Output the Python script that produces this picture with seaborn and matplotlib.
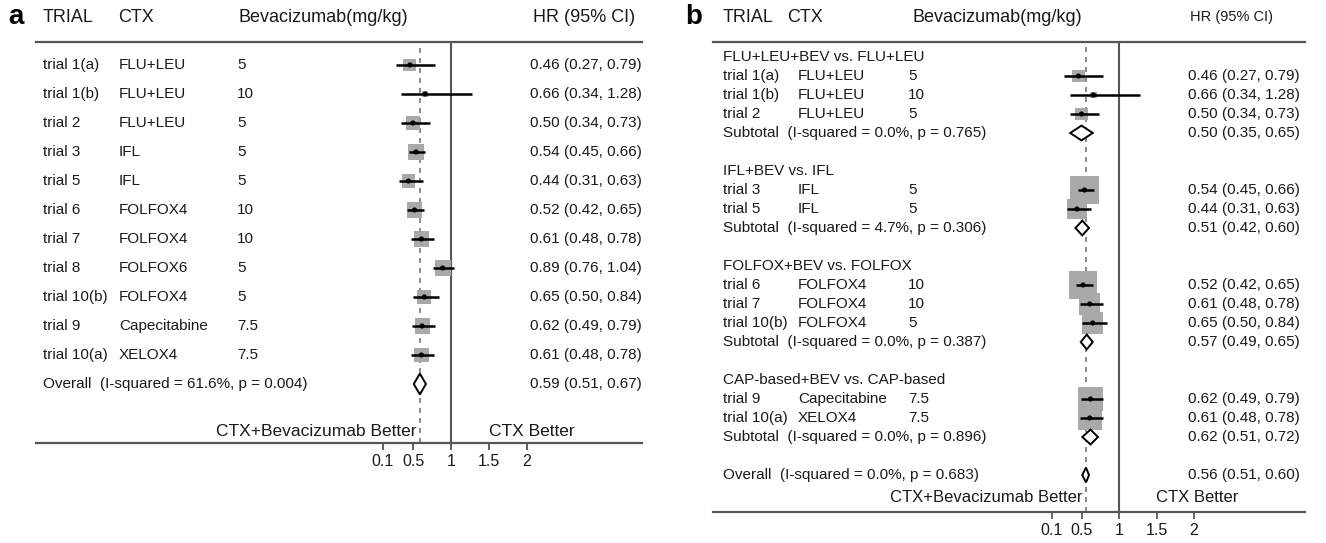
import matplotlib
matplotlib.use("Agg")
import matplotlib.pyplot as plt
import matplotlib.transforms as mtransforms
import numpy as np
import seaborn as sns

# ---- data ----
trials = ["trial 1(a)", "trial 1(b)", "trial 2", "trial 3", "trial 5", "trial 6",
          "trial 7", "trial 8", "trial 10(b)", "trial 9", "trial 10(a)"]
ctx = ["FLU+LEU", "FLU+LEU", "FLU+LEU", "IFL", "IFL", "FOLFOX4", "FOLFOX4",
       "FOLFOX6", "FOLFOX4", "Capecitabine", "XELOX4"]
dose = ["5", "10", "5", "5", "5", "10", "10", "5", "5", "7.5", "7.5"]
hr = [0.46, 0.66, 0.50, 0.54, 0.44, 0.52, 0.61, 0.89, 0.65, 0.62, 0.61]
hr_lo = [0.27, 0.34, 0.34, 0.45, 0.31, 0.42, 0.48, 0.76, 0.50, 0.49, 0.48]
hr_hi = [0.79, 1.28, 0.73, 0.66, 0.63, 0.65, 0.78, 1.04, 0.84, 0.79, 0.78]
weight_a = [7, 1.5, 8, 9.5, 8, 9.5, 9.5, 10.5, 8, 9.5, 8.5]

overall_a = dict(hr=0.59, lo=0.51, hi=0.67, i2="61.6%", p="0.004")

groups = ["FLU+LEU+BEV vs. FLU+LEU", "IFL+BEV vs. IFL",
          "FOLFOX+BEV vs. FOLFOX", "CAP-based+BEV vs. CAP-based"]
group_members = [[0, 1, 2], [3, 4], [5, 6, 8], [9, 10]]
weight_b = [6, 2, 7, 35, 17, 31, 19, 0, 19, 24, 24]
sub_hr = [0.50, 0.51, 0.57, 0.62]
sub_lo = [0.35, 0.42, 0.49, 0.51]
sub_hi = [0.65, 0.60, 0.65, 0.72]
sub_i2 = ["0.0%", "4.7%", "0.0%", "0.0%"]
sub_p = ["0.765", "0.306", "0.387", "0.896"]
overall_b = dict(hr=0.56, lo=0.51, hi=0.60, i2="0.0%", p="0.683")

xticks = [0.1, 0.5, 1, 1.5, 2]

# ---- style ----
sns.set_theme(style="white")
plt.rcParams["font.family"] = ["Liberation Sans", "DejaVu Sans"]
TXT = "#1a1a1a"
LINE = "#555555"
BOX = "#a9a9a9"

W, H = 1326, 543
fig = plt.figure(figsize=(W / 100, H / 100), dpi=100)


def add_panel(left, right, top, bottom, x_one, px_unit, row0, row_h):
    ax = fig.add_axes([left / W, 1 - bottom / H, (right - left) / W, (bottom - top) / H])
    ax.set_xlim(1 - (x_one - left) / px_unit, 1 + (right - x_one) / px_unit)
    ax.set_ylim((bottom - row0) / row_h, (top - row0) / row_h)
    for s in ["left", "right"]:
        ax.spines[s].set_visible(False)
    for s in ["top", "bottom"]:
        ax.spines[s].set_color(LINE)
        ax.spines[s].set_linewidth(1.6)
    ax.set_yticks([])
    ax.set_xticks(xticks)
    ax.set_xticklabels([f"{t:g}" for t in xticks])
    ax.tick_params(axis="x", bottom=True, direction="out", length=5, width=1.3,
                   color=LINE, labelsize=11.5, labelcolor=TXT, pad=3)
    ax.axvline(1, color=LINE, lw=1.5, zorder=1)
    return ax


def diamond(ax, y, est, lo, hi, h):
    ax.fill([lo, est, hi, est, lo], [y, y - h, y, y + h, y],
            facecolor="white", edgecolor="black", lw=1.4, zorder=4)


def study(ax, rows, est, lo, hi, w, k):
    sizes = [(k * np.sqrt(v) * 0.72) ** 2 for v in w]
    sns.scatterplot(x=est, y=rows, ax=ax, marker="s", s=sizes, color=BOX,
                    edgecolor="none", legend=False, zorder=2)
    ax.hlines(rows, lo, hi, color="black", lw=1.8, zorder=3)
    sns.scatterplot(x=est, y=rows, ax=ax, marker="o", s=14, color="black",
                    edgecolor="none", legend=False, zorder=4)


def ci_text(e, l, h):
    return f"{e:.2f} ({l:.2f}, {h:.2f})"


hy = 1 - 17 / H

# ================= panel a =================
axa = add_panel(36, 642, 42, 443, 451, 76, 65, 29)
tra = mtransforms.blended_transform_factory(fig.transFigure, axa.transData)
n = len(trials)
rows_a = list(range(n))
study(axa, rows_a, hr, hr_lo, hr_hi, weight_a, 4.9)
diamond(axa, n, overall_a["hr"], overall_a["lo"], overall_a["hi"], 0.36)
axa.axvline(overall_a["hr"], color="#777777", lw=1.2, ls=(0, (3, 3)), zorder=1)

fs_a = 11
for i in range(n):
    axa.text(43 / W, i, trials[i], transform=tra, va="center", fontsize=fs_a, color=TXT)
    axa.text(119 / W, i, ctx[i], transform=tra, va="center", fontsize=fs_a, color=TXT)
    axa.text(237 / W, i, dose[i], transform=tra, va="center", fontsize=fs_a, color=TXT)
    axa.text(530 / W, i, ci_text(hr[i], hr_lo[i], hr_hi[i]), transform=tra,
             va="center", fontsize=fs_a, color=TXT)
axa.text(43 / W, n, f"Overall  (I-squared = {overall_a['i2']}, p = {overall_a['p']})",
         transform=tra, va="center", fontsize=fs_a, color=TXT)
axa.text(530 / W, n, ci_text(overall_a["hr"], overall_a["lo"], overall_a["hi"]),
         transform=tra, va="center", fontsize=fs_a, color=TXT)
axa.text(0.55, (432 - 65) / 29, "CTX+Bevacizumab Better", ha="right", va="center",
         fontsize=12.5, color=TXT)
axa.text(1.5, (432 - 65) / 29, "CTX Better", ha="left", va="center",
         fontsize=12.5, color=TXT)

fig.text(8 / W, hy, "a", fontsize=20, fontweight="bold", va="center", color="black")
for x, s in [(43, "TRIAL"), (118, "CTX"), (239, "Bevacizumab(mg/kg)"), (533, "HR (95% CI)")]:
    fig.text(x / W, hy, s, fontsize=13, va="center", color=TXT)

# ================= panel b =================
axb = add_panel(713, 1305, 42, 512, 1119, 75, 57, 19)
trb = mtransforms.blended_transform_factory(fig.transFigure, axb.transData)
fs_b = 11
r = 0
for g, members in enumerate(group_members):
    axb.text(723 / W, r, groups[g], transform=trb, va="center", fontsize=fs_b, color=TXT)
    r += 1
    rows = list(range(r, r + len(members)))
    study(axb, rows, [hr[m] for m in members], [hr_lo[m] for m in members],
          [hr_hi[m] for m in members], [weight_b[m] for m in members], 4.9)
    for yy, m in zip(rows, members):
        axb.text(723 / W, yy, trials[m], transform=trb, va="center", fontsize=fs_b, color=TXT)
        axb.text(798 / W, yy, ctx[m], transform=trb, va="center", fontsize=fs_b, color=TXT)
        axb.text(908 / W, yy, dose[m], transform=trb, va="center", fontsize=fs_b, color=TXT)
        axb.text(1188 / W, yy, ci_text(hr[m], hr_lo[m], hr_hi[m]), transform=trb,
                 va="center", fontsize=fs_b, color=TXT)
    r += len(members)
    diamond(axb, r, sub_hr[g], sub_lo[g], sub_hi[g], 0.39)
    axb.text(723 / W, r, f"Subtotal  (I-squared = {sub_i2[g]}, p = {sub_p[g]})",
             transform=trb, va="center", fontsize=fs_b, color=TXT)
    axb.text(1188 / W, r, ci_text(sub_hr[g], sub_lo[g], sub_hi[g]), transform=trb,
             va="center", fontsize=fs_b, color=TXT)
    r += 2

diamond(axb, r, overall_b["hr"], overall_b["lo"], overall_b["hi"], 0.39)
axb.text(723 / W, r, f"Overall  (I-squared = {overall_b['i2']}, p = {overall_b['p']})",
         transform=trb, va="center", fontsize=fs_b, color=TXT)
axb.text(1188 / W, r, ci_text(overall_b["hr"], overall_b["lo"], overall_b["hi"]),
         transform=trb, va="center", fontsize=fs_b, color=TXT)
axb.axvline(overall_b["hr"], color="#777777", lw=1.2, ls=(0, (3, 3)), zorder=1)
axb.text(0.52, (498 - 57) / 19, "CTX+Bevacizumab Better", ha="right", va="center",
         fontsize=12, color=TXT)
axb.text(1.5, (498 - 57) / 19, "CTX Better", ha="left", va="center",
         fontsize=12, color=TXT)

fig.text(685 / W, hy, "b", fontsize=20, fontweight="bold", va="center", color="black")
for x, s, fs in [(723, "TRIAL", 13), (787, "CTX", 13),
                 (913, "Bevacizumab(mg/kg)", 13), (1190, "HR (95% CI)", 10.5)]:
    fig.text(x / W, hy, s, fontsize=fs, va="center", color=TXT)

fig.savefig("out.png", dpi=100, facecolor="white")
